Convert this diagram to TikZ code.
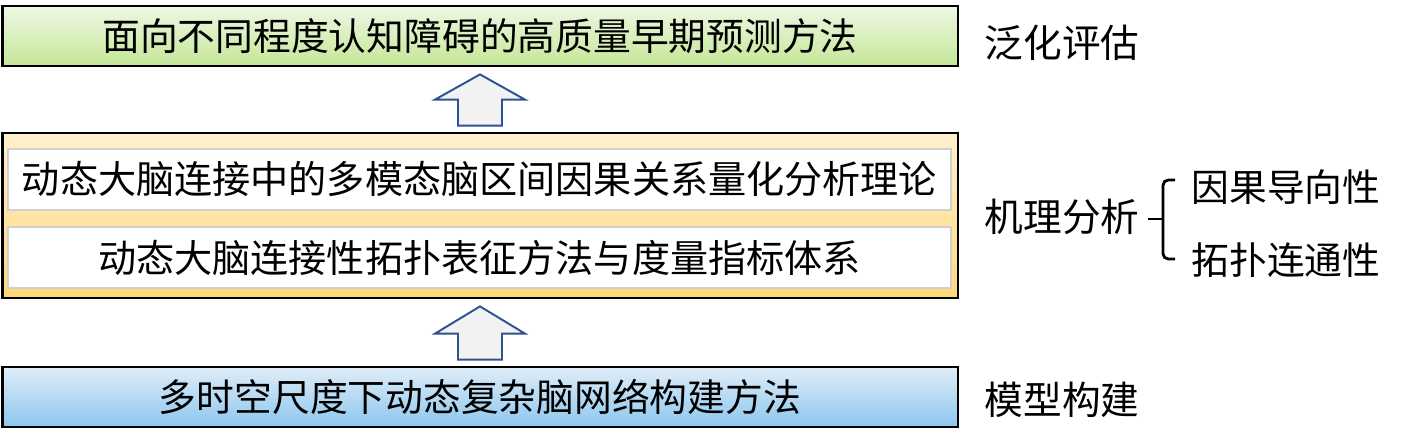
\documentclass[tikz,border=0pt]{standalone}
\usepackage{fontspec}
\setmainfont{Noto Sans CJK SC}
\usetikzlibrary{calc}

\definecolor{greentop}{HTML}{EEF7E4}
\definecolor{greenbot}{HTML}{C4E797}
\definecolor{orangetop}{HTML}{FFF0CE}
\definecolor{orangebot}{HTML}{FFD878}
\definecolor{bluetop}{HTML}{E0EDF8}
\definecolor{bluebot}{HTML}{8CC6EE}
\definecolor{arrowline}{HTML}{2F528F}
\definecolor{arrowfill}{HTML}{F2F2F2}
\definecolor{innerline}{HTML}{D0D0D0}

\begin{document}
\begin{tikzpicture}[x=0.02cm, y=-0.02cm]
    \tikzstyle{layer}=[draw=black, line width=1.6pt, minimum width=19.12cm, inner sep=0pt]
    \tikzstyle{green layer}=[layer, minimum height=1.2cm, top color=greentop, bottom color=greenbot, font=\fontsize{21.5pt}{24pt}\selectfont];
    \tikzstyle{orange layer}=[layer, minimum height=3.3cm, top color=orangetop, bottom color=orangebot];
    \tikzstyle{blue layer}=[layer, minimum height=1.2cm, top color=bluetop, bottom color=bluebot, font=\fontsize{21.5pt}{24pt}\selectfont];
    \tikzstyle{sub layer}=[draw=innerline, line width=1pt, fill=white, minimum width=18.86cm, minimum height=1.22cm, inner sep=0pt, font=\fontsize{21.7pt}{24pt}\selectfont];
    \tikzstyle{side label}=[inner sep=0pt, font=\fontsize{22pt}{25pt}\selectfont];
    \tikzstyle{aspect label}=[side label, font=\fontsize{21.5pt}{24pt}\selectfont];
    \tikzstyle{up arrow}=[draw=arrowline, fill=arrowfill, line width=1.1pt, line join=miter];

    \useasboundingbox (0,0) rectangle (1405,443);

    % Three layers, from top to bottom
    \node[green layer] (eval) at (480,36) {面向不同程度认知障碍的高质量早期预测方法};
    \node[orange layer] (mech) at (480,215.5) {};
    \node[blue layer] (model) at (480,397) {多时空尺度下动态复杂脑网络构建方法};

    % The two theories inside the middle layer
    \node[sub layer] (causal) at (479.5,179.5) {动态大脑连接中的多模态脑区间因果关系量化分析理论};
    \node[sub layer] (topo) at (479.5,257.5) {动态大脑连接性拓扑表征方法与度量指标体系};

    % Block arrows between the layers
    \foreach \src / \dst in {mech/eval, model/mech}
        \draw[up arrow] ($(\src.north)+(-22,-6)$) -- ++(0,-26) -- ++(-23,0)
            -- ($(\dst.south)+(0,7)$) -- ($(\src.north)+(45,-32)$)
            -- ++(-23,0) -- ++(0,26) -- cycle;

    % Labels on the right
    \node[side label] (evalLbl) at (1062,43) {泛化评估};
    \node[side label] (mechLbl) at (1062,217) {机理分析};
    \node[side label] (modelLbl) at (1062,400) {模型构建};
    \node[aspect label] (causeLbl) at (1286,187) {因果导向性};
    \node[aspect label] (topoLbl) at (1286,260) {拓扑连通性};

    % Brace joining the two aspects
    \coordinate (braceTop) at (1175,180);
    \coordinate (braceBot) at (1175,259);
    \coordinate (braceMid) at (1163,219);
    \coordinate (braceTip) at (1148,219);
    \draw[line width=1.6pt, rounded corners=3pt] (braceTop) -| (braceBot -| braceMid) -- (braceBot);
    \draw[line width=1.6pt] (braceTip) -- (braceMid);
\end{tikzpicture}
\end{document}
